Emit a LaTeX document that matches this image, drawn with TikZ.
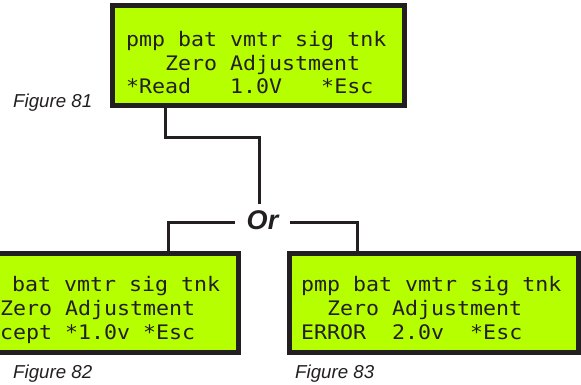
\documentclass[tikz,border=0pt]{standalone}
\usepackage{fontspec}
\setmainfont{Liberation Sans}
\newfontfamily\lcdfont[FakeStretch=1.08]{DejaVu Sans Mono}
\definecolor{ink}{HTML}{231F20}
\definecolor{lcdgreen}{RGB}{182,255,0}
\begin{document}
\begin{tikzpicture}[x=1pt,y=1pt,
  lcdbox/.style={draw=ink, fill=lcdgreen, line width=5pt, rectangle, inner sep=0pt,
                 minimum width=#1, minimum height=99pt},
  lcdtext/.style={anchor=base west, inner sep=0pt, text=ink,
                  font=\lcdfont\fontsize{20}{24}\selectfont},
  figlabel/.style={anchor=base west, inner sep=0pt, text=ink,
                   font=\itshape\fontsize{18.7}{22}\selectfont},
  conn/.style={draw=ink, line width=3pt},
  ornode/.style={inner xsep=12pt, inner ysep=6pt, text height=20pt, text depth=6pt,
                 text=ink, font=\bfseries\itshape\fontsize{27}{30}\selectfont}]
\useasboundingbox (0,0) rectangle (581,385);

% boxes
\node[lcdbox=292pt, minimum height=100pt] (topbox) at (258.5,329.5) {};
\node[lcdbox=289pt] (leftbox) at (94,82) {};
\node[lcdbox=289pt] (rightbox) at (434,82) {};

% top box text
\node[lcdtext] (t1) at (126,338) {pmp bat vmtr sig tnk};
\node[lcdtext] (t2) at (165,314) {Zero Adjustment};
\node[lcdtext] (t3) at (126,291) {*Read~~~1.0V~~~*Esc};

% left box text (clipped by the page edge)
\node[lcdtext] (l1) at (12,93) {bat vmtr sig tnk};
\node[lcdtext] (l2) at (0,69) {Zero Adjustment};
\node[lcdtext] (l3) at (0,45) {cept *1.0v *Esc};

% right box text
\node[lcdtext] (r1) at (301,93) {pmp bat vmtr sig tnk};
\node[lcdtext] (r2) at (327,69) {Zero Adjustment};
\node[lcdtext] (r3) at (301,45) {ERROR~~2.0v~~*Esc};

% figure labels
\node[figlabel] (f81) at (13,277) {Figure 81};
\node[figlabel] (f82) at (13,6) {Figure 82};
\node[figlabel] (f83) at (295,6) {Figure 83};

% Or
\node[ornode] (orn) at (262.5,162) {Or};

% connectors
\coordinate (c1) at (165,0);
\coordinate (j1) at (259,247);
\coordinate (c2) at (168,0);
\coordinate (c3) at (357,0);
\draw[conn] (c1 |- topbox.south) |- (j1) -- (j1 |- orn.north);
\draw[conn] (orn.west) -| (c2 |- leftbox.north);
\draw[conn] (orn.east) -| (c3 |- rightbox.north);
\end{tikzpicture}
\end{document}
